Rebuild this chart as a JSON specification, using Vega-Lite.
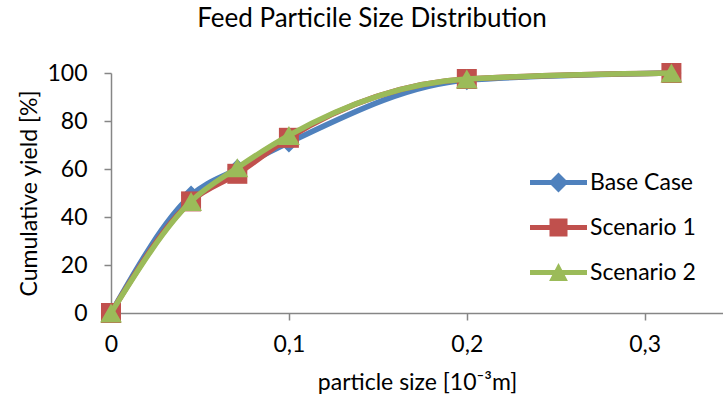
{
  "$schema": "https://vega.github.io/schema/vega-lite/v6.json",
  "autosize": "none",
  "width": 612,
  "height": 240,
  "padding": {"left": 111, "top": 73, "right": 0, "bottom": 90},
  "background": "white",
  "title": {"text": "Feed Particile Size Distribution", "fontSize": 26, "font": "Lato", "fontWeight": "normal", "color": "#000000", "anchor": "middle", "frame": "group", "dx": -45, "offset": 30},
  "config": {
    "view": {"stroke": null},
    "font": "Lato",
    "axis": {"grid": false, "domainColor": "#868686", "domainWidth": 1.5, "tickColor": "#868686", "tickWidth": 1.5, "tickSize": 7, "labelFontSize": 23, "labelColor": "#000000", "labelFont": "Lato", "titleFont": "Lato", "titleFontSize": 23, "titleFontWeight": "normal", "titleColor": "#000000"}
  },
  "data": {"values": [
    {"series": "Base Case", "size": 0, "yield": 0},
    {"series": "Base Case", "size": 0.045, "yield": 49},
    {"series": "Base Case", "size": 0.071, "yield": 60},
    {"series": "Base Case", "size": 0.1, "yield": 71},
    {"series": "Base Case", "size": 0.2, "yield": 97},
    {"series": "Base Case", "size": 0.315, "yield": 100},
    {"series": "Scenario 1", "size": 0, "yield": 0},
    {"series": "Scenario 1", "size": 0.045, "yield": 46.5},
    {"series": "Scenario 1", "size": 0.071, "yield": 58},
    {"series": "Scenario 1", "size": 0.1, "yield": 73},
    {"series": "Scenario 1", "size": 0.2, "yield": 97.5},
    {"series": "Scenario 1", "size": 0.315, "yield": 100},
    {"series": "Scenario 2", "size": 0, "yield": 0},
    {"series": "Scenario 2", "size": 0.045, "yield": 46.5},
    {"series": "Scenario 2", "size": 0.071, "yield": 60.5},
    {"series": "Scenario 2", "size": 0.1, "yield": 74},
    {"series": "Scenario 2", "size": 0.2, "yield": 97.5},
    {"series": "Scenario 2", "size": 0.315, "yield": 100}
  ]},
  "encoding": {
    "x": {"field": "size", "type": "quantitative", "scale": {"domain": [0, 0.344], "nice": false, "zero": false},
      "axis": {"values": [0, 0.1, 0.2, 0.3], "labelExpr": "replace(format(datum.value, '.1~f'), '.', ',')", "labelPadding": 13, "title": "particle size [10⁻³m]", "titlePadding": 15, "labelFlush": false}},
    "y": {"field": "yield", "type": "quantitative", "scale": {"domain": [0, 100], "nice": false},
      "axis": {"values": [0, 20, 40, 60, 80, 100], "labelPadding": 17, "title": "Cumulative yield [%]", "titlePadding": 5}},
    "color": {"field": "series", "type": "nominal",
      "scale": {"domain": ["Base Case", "Scenario 1", "Scenario 2"], "range": ["#4F81BD", "#C0504D", "#9BBB59"]},
      "legend": {"orient": "none", "legendX": 419, "legendY": 81, "title": null, "labelFontSize": 23, "labelColor": "#000000", "labelFont": "Lato", "symbolSize": 3249, "rowPadding": 4, "labelOffset": 3,
        "encode": {"symbols": {"update": {
          "shape": {"signal": "datum.value === 'Base Case' ? 'M-1,-0.088H1V0.088H-1Z M0,-0.35L0.35,0L0,0.35L-0.35,0Z' : datum.value === 'Scenario 1' ? 'M-1,-0.088H1V0.088H-1Z M-0.316,-0.316H0.316V0.316H-0.316Z' : 'M-1,-0.088H1V0.088H-1Z M0,-0.33L0.33,0.3L-0.33,0.3Z'"},
          "fill": {"signal": "scale('color', datum.value)"},
          "stroke": {"value": "transparent"},
          "strokeWidth": {"value": 0},
          "opacity": {"value": 1}
        }}}}
    }
  },
  "layer": [
    {"transform": [{"filter": "datum.series === 'Base Case'"}], "mark": {"type": "line", "interpolate": "monotone", "strokeWidth": 5.5, "strokeCap": "round"}},
    {"transform": [{"filter": "datum.series === 'Base Case'"}], "mark": {"type": "point", "shape": "diamond", "filled": true, "size": 400, "opacity": 1}},
    {"transform": [{"filter": "datum.series === 'Scenario 1'"}], "mark": {"type": "line", "interpolate": "monotone", "strokeWidth": 5.5, "strokeCap": "round"}},
    {"transform": [{"filter": "datum.series === 'Scenario 1'"}], "mark": {"type": "point", "shape": "square", "filled": true, "size": 400, "opacity": 1}},
    {"transform": [{"filter": "datum.series === 'Scenario 2'"}], "mark": {"type": "line", "interpolate": "monotone", "strokeWidth": 5.5, "strokeCap": "round"}},
    {"transform": [{"filter": "datum.series === 'Scenario 2'"}], "mark": {"type": "point", "shape": "triangle-up", "filled": true, "size": 480, "opacity": 1}}
  ]
}
